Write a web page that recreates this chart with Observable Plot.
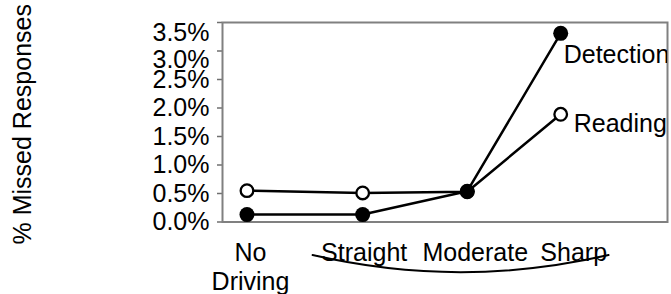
<!DOCTYPE html>
<html>
<head>
<meta charset="utf-8">
<script src="https://cdn.jsdelivr.net/npm/d3@7"></script>
<script src="https://cdn.jsdelivr.net/npm/@observablehq/plot@0.6"></script>
<style>
  html, body { margin: 0; padding: 0; background: #fff; }
  #chart svg { display: block; }
</style>
</head>
<body>
<div id="chart"></div>
<script>
// ---- data ----
const categories = ["No Driving", "Straight", "Moderate", "Sharp"];
const categoryLabels = ["No\nDriving", "Straight", "Moderate", "Sharp"];
const categoryX = [0.22, 1.26, 2.2, 3.04];          // x values of the scatter
const detection = [0.13, 0.13, 0.54, 3.31];        // % missed responses
const reading = [0.55, 0.51, 0.53, 1.89];          // % missed responses
const yTicks = [0, 0.5, 1.0, 1.5, 2.0, 2.5, 3.0, 3.5];

const rows = [];
categories.forEach((c, i) => {
  rows.push({cat: c, x: categoryX[i], series: "Reading", value: reading[i]});
  rows.push({cat: c, x: categoryX[i], series: "Detection", value: detection[i]});
});
const readingRows = rows.filter(d => d.series === "Reading");
const detectionRows = rows.filter(d => d.series === "Detection");

const font = "'Liberation Sans', Arial, sans-serif";
const fs = 25;
const pct = d => d.toFixed(1) + "%";
const labelDx = [3.5, 1.5, 8, 13];

const chart = Plot.plot({
  width: 671,
  height: 294,
  marginLeft: 222,
  marginRight: 4,
  marginTop: 22,
  marginBottom: 72.5,
  style: {fontFamily: font, fontSize: fs + "px", background: "white", color: "black"},
  x: {domain: [0, 4], axis: null},
  y: {domain: [0, 3.5], axis: null},
  marks: [
    Plot.axisY({ticks: yTicks, tickSize: 5, tickFormat: () => "", label: null, stroke: "#6f6f6f", strokeWidth: 1.5}),
    Plot.frame({stroke: "#808080", strokeWidth: 2}),
    // y tick labels (top two pushed down as in the original)
    Plot.text(yTicks.filter(v => v <= 2.5), {y: d => d, text: pct, frameAnchor: "left", textAnchor: "end", dx: -13, fontSize: fs}),
    Plot.text(yTicks.filter(v => v === 3.0), {y: d => d, text: pct, frameAnchor: "left", textAnchor: "end", dx: -13, dy: 9, fontSize: fs}),
    Plot.text(yTicks.filter(v => v === 3.5), {y: d => d, text: pct, frameAnchor: "left", textAnchor: "end", dx: -13, dy: 10, fontSize: fs}),
    // y axis title
    Plot.text(["% Missed Responses"], {frameAnchor: "left", textAnchor: "middle", dx: -200, dy: 2, rotate: -90, fontSize: fs}),
    // series lines
    Plot.line(rows, {x: "x", y: "value", z: "series", stroke: "black", strokeWidth: 2.5}),
    Plot.dot(readingRows, {x: "x", y: "value", r: 6.3, fill: "white", stroke: "black", strokeWidth: 2.3}),
    Plot.dot(detectionRows, {x: "x", y: "value", r: 7.5, fill: "black", stroke: "none"}),
    // series labels, clipped at the plot frame
    Plot.text(["Detection"], {x: categoryX[3], y: detection[3], dx: 3, dy: 22, textAnchor: "start", fontSize: fs, clip: true}),
    Plot.text(["Reading"], {x: categoryX[3], y: reading[3], dx: 13, dy: 10, textAnchor: "start", fontSize: fs, clip: true}),
    // category labels
    ...categoryLabels.map((lab, i) =>
      Plot.text([lab], {x: categoryX[i], frameAnchor: "bottom", lineAnchor: "top", dy: 18.5, dx: labelDx[i], lineHeight: 1.15, fontSize: fs})
    ),
    // brace grouping the driving conditions
    Plot.arrow([0], {
      x1: categoryX[1] - 0.45, x2: categoryX[3] + 0.43,
      y1: -0.58, y2: -0.58,
      bend: -13, headLength: 0, stroke: "black", strokeWidth: 2
    })
  ]
});
document.getElementById("chart").appendChild(chart);
</script>
</body>
</html>
